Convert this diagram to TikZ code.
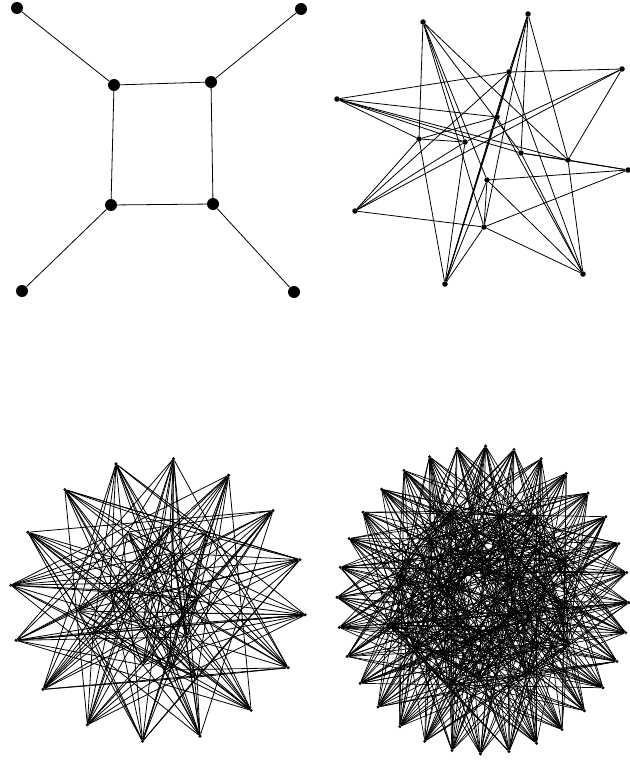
\documentclass[tikz,border=0pt]{standalone}
\usepackage{tikz}
\tikzset{
  bigdot/.style  = {circle, fill=black, minimum size=12pt, inner sep=0pt},
  middot/.style  = {circle, fill=black, minimum size=5.5pt, inner sep=0pt},
  tinydot/.style = {circle, fill=black, minimum size=3.4pt, inner sep=0pt},
  link/.style    = {draw=black, line width=0.8pt},
  thinlink/.style= {draw=black, line width=0.7pt},
}

\begin{document}
\begin{tikzpicture}[x=1pt,y=-1pt]
  \useasboundingbox (0,0) rectangle (629,760);

  % ---------- square with four pendants (top left) ----------
  \node[bigdot] (tl) at ( 17,  8) {};
  \node[bigdot] (tr) at (301,  9) {};
  \node[bigdot] (bl) at ( 22,291) {};
  \node[bigdot] (br) at (294,292) {};
  \node[bigdot] (itl) at (114, 85) {};
  \node[bigdot] (itr) at (211, 82) {};
  \node[bigdot] (ibl) at (111,205) {};
  \node[bigdot] (ibr) at (213,204) {};
  \draw[link] (tl) -- (itl);
  \draw[link] (tr) -- (itr);
  \draw[link] (bl) -- (ibl);
  \draw[link] (br) -- (ibr);
  \draw[link] (itl) -- (itr) -- (ibr) -- (ibl) -- (itl);

  % ---------- sixteen vertices (top right) ----------
  % outer points
  \node[middot] (nA) at (423, 22) {};
  \node[middot] (nB) at (528, 14) {};
  \node[middot] (nC) at (622, 69) {};
  \node[middot] (nD) at (337, 99) {};
  \node[middot] (nE) at (628,170) {};
  \node[middot] (nF) at (355,211) {};
  \node[middot] (nG) at (445,284) {};
  \node[middot] (nH) at (583,274) {};
  % inner points
  \node[middot] (na) at (509, 72) {};
  \node[middot] (nb) at (497,117) {};
  \node[middot] (nc) at (419,139) {};
  \node[middot] (nd) at (465,142) {};
  \node[middot] (ne) at (521,153) {};
  \node[middot] (nf) at (568,160) {};
  \node[middot] (ng) at (487,180) {};
  \node[middot] (nh) at (484,227) {};

  \foreach \u/\v in {A/c, A/d, A/e, A/f, A/g, A/h,
                     B/a, B/b, B/e, B/f, B/G, B/h,
                     C/a, C/f, C/F, C/d,
                     D/a, D/b, D/c, D/d, D/e, D/f,
                     E/e, E/f, E/g, E/h,
                     F/c, F/a, F/d, F/h,
                     G/c, G/d, G/b, G/a, G/g, G/h,
                     H/b, H/e, H/f, H/g, H/h, H/a,
                     c/d, c/b, e/f, g/h, a/b}
    \draw[link] (n\u) -- (n\v);

  % ---------- thirty-two vertices (bottom left) ----------
  \foreach \k in {0,...,15}
    \node[tinydot] (o\k) at ({158+148*cos(-6+22.5*\k)}, {600-142*sin(-6+22.5*\k)}) {};
  \foreach \pt [count=\i from 0] in {(128,532),(170,526),(207,532),(78,611),
                                      (93,634),(143,665),(170,670),(197,677),
                                      (198,598),(182,613),(142,627),(137,583),
                                      (173,553),(160,593),(110,590),(187,637)}
    \node[tinydot] (m\i) at \pt {};

  \foreach \k in {0,...,15} {
    \pgfmathtruncatemacro\far{mod(\k+5,16)}
    \pgfmathtruncatemacro\wide{mod(\k+7,16)}
    \pgfmathtruncatemacro\mid{mod(\k+7,16)}
    \pgfmathtruncatemacro\alt{mod(\k+3,16)}
    \draw[link] (o\k) -- (o\far);
    \draw[link] (o\k) -- (o\wide);
    \draw[link] (m\k) -- (m\mid);
    \draw[link] (m\k) -- (m\alt);
    \foreach \j in {0,...,7} {
      \pgfmathtruncatemacro\w{mod(3*\k+5*\j,16)}
      \draw[link] (o\k) -- (m\w);
    }
  }

  % ---------- sixty-four vertices (bottom right) ----------
  \foreach \k in {0,...,31}
    \node[tinydot] (p\k) at ({483+146*cos(-1+11.25*\k)}, {600-154*sin(-1+11.25*\k)}) {};
  \foreach \k in {0,...,31}
    \node[tinydot] (q\k) at ({483+100*sqrt((\k+0.5)/32)*cos(137.5*\k)},
                             {600+100*sqrt((\k+0.5)/32)*sin(137.5*\k)}) {};

  \foreach \k in {0,...,31} {
    \pgfmathtruncatemacro\far{mod(\k+10,32)}
    \pgfmathtruncatemacro\wide{mod(\k+14,32)}
    \draw[thinlink] (p\k) -- (p\far);
    \draw[thinlink] (p\k) -- (p\wide);
    \foreach \s in {3,5,8,11,13} {
      \pgfmathtruncatemacro\mid{mod(\k+\s,32)}
      \draw[thinlink] (q\k) -- (q\mid);
    }
    \foreach \j in {0,...,11} {
      \pgfmathtruncatemacro\w{mod(7*\k+3*\j,32)}
      \draw[thinlink] (p\k) -- (q\w);
    }
  }
\end{tikzpicture}
\end{document}
